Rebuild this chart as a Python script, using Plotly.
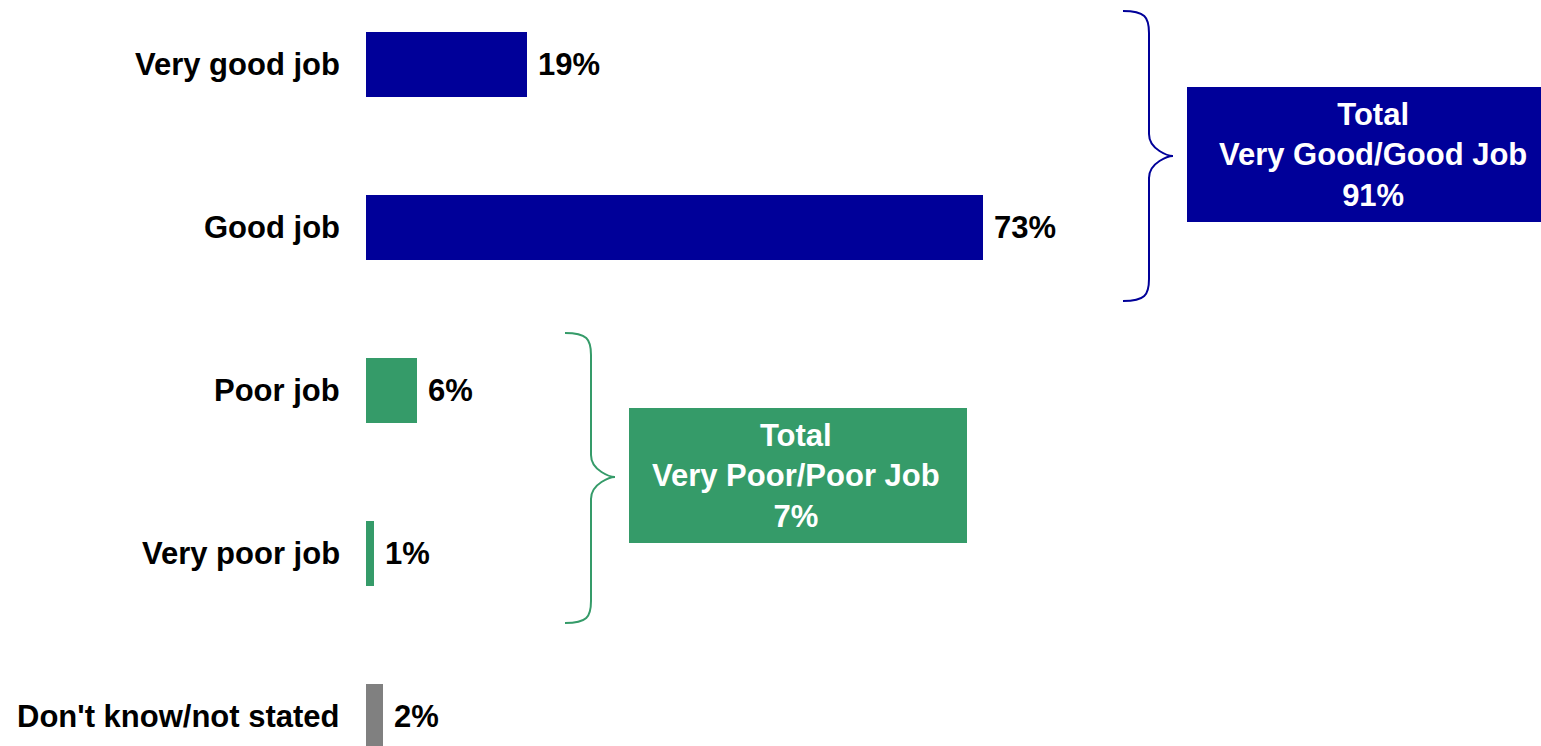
import plotly.graph_objects as go

# Survey responses
categories = ["Very good job", "Good job", "Poor job", "Very poor job", "Don't know/not stated"]
values = [19, 73, 6, 1, 2]
bar_colors = ["#000099", "#000099", "#359B69", "#359B69", "#808080"]

# Combined totals shown beside the braces
group_titles = ["Very Good/Good Job", "Very Poor/Poor Job"]
group_totals = [91, 7]
group_colors = ["#000099", "#359B69"]

W, H = 1541, 746
X0_PX, PX_PER_UNIT = 366, 617 / 73
Y0_PX, PX_PER_ROW = 64.5, 163

def dx(px):
    return (px - X0_PX) / PX_PER_UNIT

def dy(py):
    return (py - Y0_PX) / PX_PER_ROW

rows = list(range(len(categories)))
FONT = "Liberation Sans, Arial, sans-serif"
FS = 31

fig = go.Figure(go.Bar(
    x=values, y=rows, orientation="h", width=65 / PX_PER_ROW,
    marker=dict(color=bar_colors, line=dict(width=0)),
    hoverinfo="skip",
))

annotations = []
for r, cat, v in zip(rows, categories, values):
    annotations.append(dict(x=0, y=r, text=cat, xanchor="right", yanchor="middle",
                            xshift=-24, showarrow=False,
                            font=dict(family=FONT, size=FS, color="#000", weight="bold")))
    annotations.append(dict(x=v, y=r, text=f"{v}%", xanchor="left", yanchor="middle",
                            xshift=9, showarrow=False,
                            font=dict(family=FONT, size=FS, color="#000", weight="bold")))

def brace(x_end, x_mid, x_tip, y_top, y_tip, y_bot, r=22):
    pts = [
        f"M {dx(x_end)},{dy(y_top)}",
        f"C {dx(x_mid - 4)},{dy(y_top)} {dx(x_mid)},{dy(y_top + 6)} {dx(x_mid)},{dy(y_top + r)}",
        f"L {dx(x_mid)},{dy(y_tip - r)}",
        f"C {dx(x_mid)},{dy(y_tip - 6)} {dx(x_tip - 4)},{dy(y_tip)} {dx(x_tip)},{dy(y_tip)}",
        f"C {dx(x_tip - 4)},{dy(y_tip)} {dx(x_mid)},{dy(y_tip + 6)} {dx(x_mid)},{dy(y_tip + r)}",
        f"L {dx(x_mid)},{dy(y_bot - r)}",
        f"C {dx(x_mid)},{dy(y_bot - 6)} {dx(x_mid - 4)},{dy(y_bot)} {dx(x_end)},{dy(y_bot)}",
    ]
    return " ".join(pts)

braces = [
    (1123, 1149, 1173, 11, 156, 301),
    (565, 591, 615, 333, 477, 623),
]
boxes = [
    (1187, 87, 1560, 222),
    (629, 408, 967, 543),
]
text_centers = [1373, 796]

shapes = []
for (b, box, cx, title, total, color) in zip(braces, boxes, text_centers, group_titles,
                                               group_totals, group_colors):
    shapes.append(dict(type="path", path=brace(*b), xref="x", yref="y",
                       line=dict(color=color, width=2), fillcolor="rgba(0,0,0,0)"))
    x1, y1, x2, y2 = box
    shapes.append(dict(type="rect", xref="x", yref="y",
                       x0=dx(x1), x1=dx(x2), y0=dy(y1), y1=dy(y2),
                       fillcolor=color, line=dict(width=0), layer="below"))
    annotations.append(dict(x=dx(cx), y=dy((y1 + y2) / 2), text=f"Total<br>{title}<br>{total}%",
                            xanchor="center", yanchor="middle", showarrow=False, align="center",
                            font=dict(family=FONT, size=FS, color="#fff", weight="bold")))

fig.update_layout(
    width=W, height=H,
    margin=dict(l=0, r=0, t=0, b=0),
    paper_bgcolor="white", plot_bgcolor="white",
    showlegend=False,
    xaxis=dict(range=[dx(0), dx(W)], visible=False, fixedrange=True),
    yaxis=dict(range=[dy(H), dy(0)], visible=False, fixedrange=True),
    annotations=annotations,
    shapes=shapes,
    bargap=0,
)

fig.write_html("out.html", config={"displayModeBar": False})
